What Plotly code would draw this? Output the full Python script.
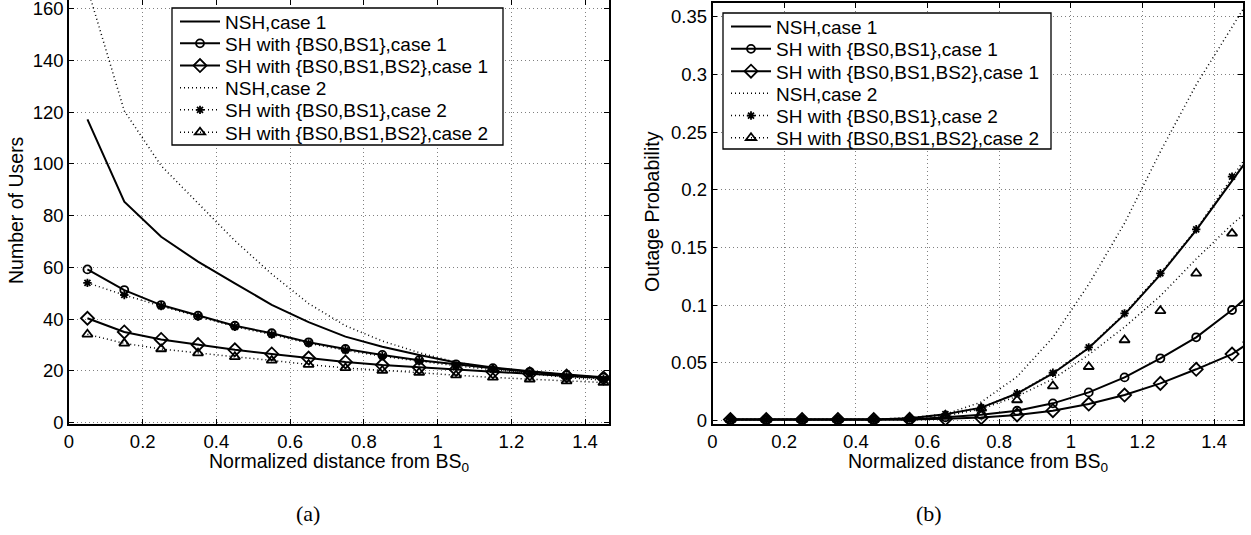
import plotly.graph_objects as go

# ---------------- data ----------------
x_pts = [0.05, 0.15, 0.25, 0.35, 0.45, 0.55, 0.65, 0.75, 0.85, 0.95,
         1.05, 1.15, 1.25, 1.35, 1.45, 1.5]
x_ticks = [0, 0.2, 0.4, 0.6, 0.8, 1, 1.2, 1.4]

# (a) Number of users
users_nsh1 = [117.2, 85.4, 71.8, 62.2, 53.8, 45.5, 38.8, 33.2, 29.3, 26.1,
              23.2, 21.3, 19.8, 18.5, 17.5, 17.0]
users_sh01_c1 = [59.2, 51.2, 45.4, 41.3, 37.4, 34.5, 31.0, 28.4, 26.1, 24.1,
                 22.5, 21.0, 19.6, 18.3, 17.3, 16.8]
users_sh012_c1 = [40.3, 35.0, 32.1, 30.1, 28.1, 26.5, 24.9, 23.4, 22.2, 21.3,
                  20.5, 19.6, 18.8, 18.0, 17.2, 16.8]
users_nsh2 = [168.0, 120.5, 99.3, 84.8, 70.3, 57.4, 46.0, 37.4, 31.5, 27.0,
              23.3, 20.8, 18.9, 17.4, 16.3, 15.8]
users_sh01_c2 = [54.0, 49.3, 45.0, 41.0, 37.0, 34.0, 30.6, 27.9, 25.6, 23.7,
                 21.9, 20.4, 19.0, 17.8, 16.8, 16.3]
users_sh012_c2 = [34.1, 30.6, 28.4, 26.8, 25.4, 24.0, 22.4, 21.1, 20.1, 19.3,
                  18.3, 17.4, 16.7, 16.0, 15.4, 15.1]
users_ticks = [0, 20, 40, 60, 80, 100, 120, 140, 160]

# (b) Outage probability
out_nsh1 = [0.0008, 0.0008, 0.0008, 0.0008, 0.0008, 0.002, 0.0055, 0.0112, 0.0234, 0.0408,
            0.0628, 0.0920, 0.1265, 0.1650, 0.2070, 0.2290]
out_sh01_c1 = [0.0008, 0.0008, 0.0008, 0.0008, 0.0008, 0.001, 0.0028, 0.0050, 0.0085, 0.0149,
               0.0244, 0.0374, 0.0539, 0.0721, 0.0958, 0.1090]
out_sh012_c1 = [0.0008, 0.0008, 0.0008, 0.0008, 0.0008, 0.001, 0.0015, 0.0026, 0.0048, 0.0085,
                0.0143, 0.0221, 0.0322, 0.0444, 0.0576, 0.0680]
out_nsh2 = [0.0008, 0.0008, 0.0008, 0.0008, 0.0010, 0.0025, 0.0055, 0.016, 0.038, 0.072,
            0.118, 0.171, 0.233, 0.291, 0.341, 0.366]
out_sh01_c2 = [0.0008, 0.0008, 0.0008, 0.0008, 0.0008, 0.002, 0.0055, 0.0114, 0.0236, 0.0414,
               0.0634, 0.0929, 0.1276, 0.1657, 0.2113, 0.233]
out_sh012_c2 = [0.0008, 0.0008, 0.0008, 0.0008, 0.0008, 0.0015, 0.0045, 0.0106, 0.0178, 0.0299,
                0.0466, 0.0698, 0.0951, 0.1276, 0.1622, 0.180]
out_sh012_c2_line = [0.0008, 0.0008, 0.0008, 0.0008, 0.0008, 0.002, 0.004, 0.010, 0.021, 0.036,
                     0.057, 0.081, 0.108, 0.140, 0.170, 0.183]
out_ticks = [0, 0.05, 0.1, 0.15, 0.2, 0.25, 0.3, 0.35]

names = ["NSH,case 1", "SH with {BS0,BS1},case 1", "SH with {BS0,BS1,BS2},case 1",
         "NSH,case 2", "SH with {BS0,BS1},case 2", "SH with {BS0,BS1,BS2},case 2"]

# ---------------- styles / layout constants ----------------
FONT = "Liberation Sans, Arial, Helvetica, sans-serif"
SERIF = "Liberation Serif, DejaVu Serif, serif"
BLACK = "black"
DOT = "1px,3px"
W, H = 1251, 535


def px(v):
    return v / W


def py(v):
    return min(1.0, 1 - v / H)


styles = [
    dict(mode="lines", dash="solid", symbol=None),
    dict(mode="lines+markers", dash="solid", symbol="circle-open"),
    dict(mode="lines+markers", dash="solid", symbol="diamond-open"),
    dict(mode="lines", dash=DOT, symbol=None),
    dict(mode="lines+markers", dash=DOT, symbol="asterisk-open"),
    dict(mode="lines+markers", dash=DOT, symbol="triangle-up-open"),
]
msize = {"circle-open": 8, "diamond-open": 10, "asterisk-open": 7, "triangle-up-open": 9}

# legend rows (one single-item legend per row so spacing matches)
left_box = dict(x0=172, x1=503, y0=8, y1=145)
right_box = dict(x0=723, x1=1051, y0=13, y1=149)
left_rows = [21.7, 43.5, 65.7, 88.0, 110.0, 132.3]
right_rows = [26.7, 49.0, 71.3, 93.5, 115.7, 137.9]
left_legs = ["legend", "legend2", "legend3", "legend4", "legend5", "legend6"]
right_legs = ["legend7", "legend8", "legend9", "legend10", "legend11", "legend12"]

fig = go.Figure()


def add_series(xs, ys, st, name, xa, ya, leg, showleg=True, mode=None):
    lw = 2 if st["dash"] == "solid" else 1.5
    m = mode or st["mode"]
    kw = dict(x=xs, y=ys, name=name, mode=m, xaxis=xa, yaxis=ya, legend=leg,
              showlegend=showleg, line=dict(color=BLACK, width=lw, dash=st["dash"]))
    if st["symbol"] is not None:
        kw["marker"] = dict(symbol=st["symbol"], size=msize[st["symbol"]], color=BLACK,
                            line=dict(color=BLACK, width=1.8))
    fig.add_trace(go.Scatter(**kw))


left = [users_nsh1, users_sh01_c1, users_sh012_c1, users_nsh2, users_sh01_c2, users_sh012_c2]
for ys, st, nm, lg in zip(left, styles, names, left_legs):
    add_series(x_pts, ys, st, nm, "x", "y", lg)

right = [out_nsh1, out_sh01_c1, out_sh012_c1, out_nsh2, out_sh01_c2]
for ys, st, nm, lg in zip(right, styles[:5], names[:5], right_legs[:5]):
    add_series(x_pts, ys, st, nm, "x2", "y2", lg)
# case 2 triangles (b): legend entry, separate dotted curve and markers
add_series([None], [None], styles[5], names[5], "x2", "y2", right_legs[5])
add_series(x_pts, out_sh012_c2_line, styles[5], names[5], "x2", "y2", right_legs[5],
           showleg=False, mode="lines")
add_series(x_pts, out_sh012_c2, styles[5], names[5], "x2", "y2", right_legs[5],
           showleg=False, mode="markers")

axis_common = dict(showline=True, linecolor=BLACK, linewidth=1.5, mirror="ticks",
                   ticks="inside", ticklen=5, tickcolor=BLACK, tickwidth=1,
                   showgrid=True, gridcolor="#808080", gridwidth=1, griddash=DOT,
                   zeroline=False, tickfont=dict(family=FONT, size=18.5, color=BLACK),
                   ticklabeloverflow="allow", automargin=False)

layout = dict(
    width=W, height=H, margin=dict(l=0, r=0, t=0, b=0),
    paper_bgcolor="white", plot_bgcolor="white",
    font=dict(family=FONT, size=18, color=BLACK),
    xaxis=dict(domain=[px(69), px(609)], range=[0, 1.465], tickvals=x_ticks, anchor="y",
               **axis_common),
    yaxis=dict(domain=[py(424), 1.0], range=[-0.6, 163.4], tickvals=users_ticks,
               anchor="x", **axis_common),
    xaxis2=dict(domain=[px(712.5), px(1243)], range=[0, 1.4806], tickvals=x_ticks,
                anchor="y2", **axis_common),
    yaxis2=dict(domain=[py(424), py(3)], range=[-0.003, 0.3618], tickvals=out_ticks,
                anchor="x2", **axis_common),
    showlegend=True,
)
for legs, rows, box in ((left_legs, left_rows, left_box), (right_legs, right_rows, right_box)):
    for lg, ry in zip(legs, rows):
        layout[lg] = dict(x=px(box["x0"] + 3), y=py(ry), xanchor="left", yanchor="middle",
                          bgcolor="rgba(0,0,0,0)", borderwidth=0, itemwidth=40,
                          font=dict(family=FONT, size=19, color=BLACK))
fig.update_layout(**layout)

# legend frames
for box in (left_box, right_box):
    fig.add_shape(type="rect", xref="paper", yref="paper", layer="above",
                  x0=px(box["x0"]), x1=px(box["x1"]), y0=py(box["y1"]), y1=py(box["y0"]),
                  line=dict(color=BLACK, width=1.3), fillcolor="white")

ann = [
    dict(text="Number of Users", x=px(16), y=py(210), textangle=-90),
    dict(text="Outage Probability", x=px(652), y=py(212), textangle=-90),
    dict(text="Normalized distance from BS<sub>0</sub>", x=px(339), y=py(462.5)),
    dict(text="Normalized distance from BS<sub>0</sub>", x=px(978), y=py(462.5)),
]
for a in ann:
    a.update(xref="paper", yref="paper", showarrow=False, xanchor="center", yanchor="middle",
             font=dict(family=FONT, size=19.5, color=BLACK))
    fig.add_annotation(**a)
for t, xc in (("(a)", 308), ("(b)", 929)):
    fig.add_annotation(text=t, x=px(xc), y=py(513), xref="paper", yref="paper",
                       showarrow=False, xanchor="center", yanchor="middle",
                       font=dict(family=SERIF, size=22, color=BLACK))

fig.write_html("out.html", config={"displayModeBar": False},
               post_script="document.body.style.margin='0';")
